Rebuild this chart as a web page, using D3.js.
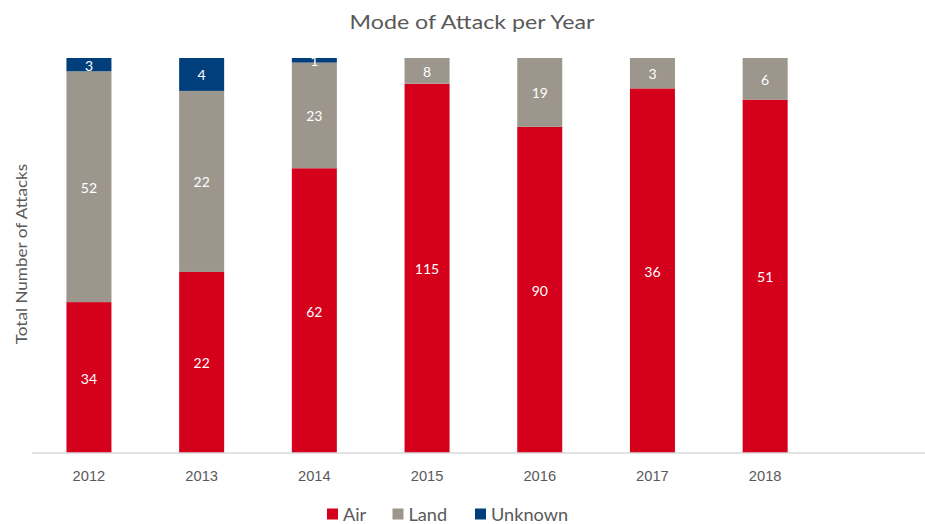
<!DOCTYPE html>
<html>
<head>
<meta charset="utf-8">
<script src="https://cdn.jsdelivr.net/npm/d3@7"></script>
<style>
  html, body { margin: 0; padding: 0; background: #fff; }
  svg { display: block; font-family: Lato, "Open Sans", "Noto Sans", sans-serif; }
</style>
</head>
<body>
<svg id="chart" width="925" height="524"></svg>
<script>
// Attacks per year, split by mode
const years = ["2012", "2013", "2014", "2015", "2016", "2017", "2018"];
const airValues = [34, 22, 62, 115, 90, 36, 51];
const landValues = [52, 22, 23, 8, 19, 3, 6];
const unknownValues = [3, 4, 1, 0, 0, 0, 0];
const seriesNames = ["Air", "Land", "Unknown"];
const seriesColors = ["#d5001c", "#9c968c", "#003f7b"];

const rows = years.map((y, i) => ({
  year: y, Air: airValues[i], Land: landValues[i], Unknown: unknownValues[i]
}));

const svg = d3.select("#chart");
const W = 925;
const baseY = 453, topY = 58;
const textColor = "#595959";

// one spare slot on the right keeps the bars at their spacing
const slots = years.concat(["_"]);
const x = d3.scaleBand().domain(slots).range([32.6, 934.2]).paddingInner(0.6).paddingOuter(0.3);
const y = d3.scaleLinear().domain([0, 1]).range([baseY, topY]);

const stack = d3.stack().keys(seriesNames).offset(d3.stackOffsetExpand);
const layers = stack(rows);

const color = d3.scaleOrdinal().domain(seriesNames).range(seriesColors);

// wide-set text: placed at (px, py), stretched horizontally by sx
function wideText(parent, px, py, str, size, sx, anchor, fill) {
  return parent.append("text")
    .attr("transform", `translate(${px},${py}) scale(${sx},1)`)
    .attr("text-anchor", anchor)
    .attr("fill", fill)
    .attr("font-size", size)
    .text(str);
}

// title
wideText(svg, 472, 28.5, "Mode of Attack per Year", 19.5, 1.19, "middle", textColor);

// y axis title
svg.append("text")
  .attr("transform", "translate(27,254) rotate(-90) scale(1.07,1)")
  .attr("text-anchor", "middle")
  .attr("fill", textColor)
  .attr("font-size", 16)
  .text("Total Number of Attacks");

const bw = 45;
const g = svg.append("g");
layers.forEach(layer => {
  const key = layer.key;
  const grp = g.append("g").attr("fill", color(key));
  const segs = layer.filter(d => d.data[key] > 0);
  grp.selectAll("rect")
    .data(segs)
    .join("rect")
    .attr("x", d => x(d.data.year) + x.bandwidth() / 2 - bw / 2)
    .attr("width", bw)
    .attr("y", d => y(d[1]))
    .attr("height", d => y(d[0]) - y(d[1]));
  const lab = g.append("g");
  segs.forEach(d => {
    const cx = x(d.data.year) + x.bandwidth() / 2;
    const cy = (y(d[0]) + y(d[1])) / 2 + 1.5;
    wideText(lab, cx, cy + 4.5, d.data[key], 12.5, 1.12, "middle", "#ffffff");
  });
});

// category axis
const xAxis = d3.axisBottom(x).tickSize(0).tickPadding(16)
  .tickFormat(d => d === "_" ? "" : d);
const ax = svg.append("g").attr("transform", `translate(0,${baseY})`).call(xAxis);
ax.select(".domain").attr("stroke", "#d9d9d9").attr("stroke-width", 1.5)
  .attr("d", `M32,0H${W}`);
ax.selectAll(".tick text")
  .attr("fill", textColor).attr("font-size", 14).attr("font-family", null)
  .attr("x", 0).attr("y", 28.5).attr("dy", null)
  .attr("transform", "scale(1.05,1)");

// legend
const legendItems = [
  { name: "Air", x: 327 },
  { name: "Land", x: 392.5 },
  { name: "Unknown", x: 475 }
];
const lg = svg.append("g");
legendItems.forEach(it => {
  lg.append("rect").attr("x", it.x).attr("y", 508.5).attr("width", 11).attr("height", 11)
    .attr("fill", color(it.name));
  wideText(lg, it.x + 16, 520.5, it.name, 16.5, 1.1, "start", textColor);
});
</script>
</body>
</html>
